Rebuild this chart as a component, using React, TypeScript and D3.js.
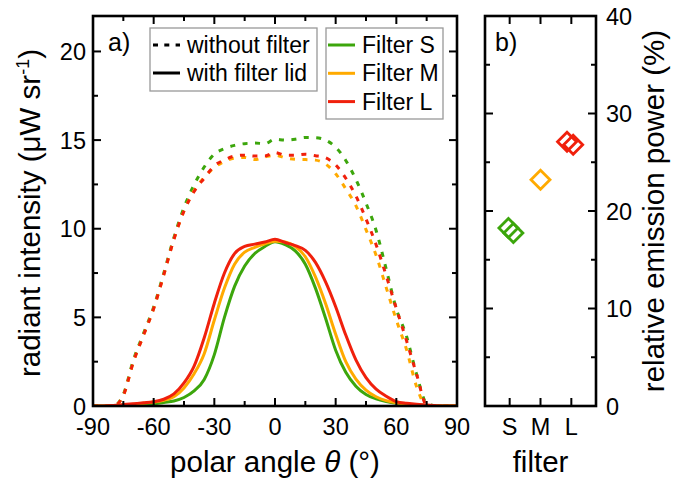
import React from "react";
import * as d3 from "d3";

// ---------- DATA ----------
const angles = d3.range(-90, 91, 5);

// without filter (dotted)
const noFilterS = [0, 0, 0, 0.65, 2.6, 4.1, 5.58, 7.5, 9.5, 11.2, 12.48, 13.48, 14.21, 14.52, 14.7, 14.8, 14.83, 14.8, 15.05, 15.0, 15.05, 15.15, 15.14, 15.0, 14.6, 13.85, 12.78, 11.45, 9.9, 7.72, 5.48, 3.95, 1.8, 0.15, 0, 0, 0];
const noFilterM = [0, 0, 0, 0.6, 2.5, 4.0, 5.5, 7.4, 9.4, 11.0, 12.15, 12.9, 13.45, 13.8, 13.98, 14.02, 13.9, 14.05, 14.15, 14.0, 13.92, 13.9, 13.87, 13.65, 13.1, 12.25, 11.3, 9.95, 8.5, 6.68, 4.85, 3.2, 1.1, 0, 0, 0, 0];
const noFilterL = [0, 0, 0, 0.6, 2.5, 4.0, 5.5, 7.4, 9.4, 11.0, 12.1, 12.85, 13.55, 13.88, 14.1, 14.15, 14.1, 14.1, 14.3, 14.15, 14.15, 14.2, 14.12, 14.0, 13.6, 12.85, 11.85, 10.55, 9.1, 7.35, 5.5, 3.7, 1.8, 0.05, 0, 0, 0];

// with filter lid (solid)
const lidS = [0, 0, 0, 0.02, 0.05, 0.08, 0.12, 0.2, 0.28, 0.48, 0.85, 1.5, 2.9, 5.0, 6.75, 7.9, 8.6, 9.0, 9.27, 9.1, 8.75, 8.0, 6.65, 4.95, 3.15, 1.9, 1.12, 0.65, 0.4, 0.25, 0.15, 0.1, 0.06, 0.03, 0, 0, 0];
const lidM = [0, 0, 0.02, 0.05, 0.1, 0.15, 0.22, 0.32, 0.52, 1.02, 1.82, 2.95, 4.85, 6.65, 8.0, 8.68, 8.95, 9.15, 9.3, 9.25, 9.0, 8.42, 7.28, 5.78, 4.05, 2.5, 1.52, 0.9, 0.52, 0.3, 0.18, 0.1, 0.06, 0.03, 0, 0, 0];
const lidL = [0, 0, 0.03, 0.08, 0.13, 0.18, 0.24, 0.38, 0.68, 1.3, 2.25, 3.85, 5.8, 7.5, 8.6, 9.0, 9.13, 9.25, 9.4, 9.22, 9.05, 8.78, 8.1, 7.0, 5.6, 4.0, 2.6, 1.6, 0.95, 0.55, 0.25, 0.15, 0.1, 0.06, 0.02, 0, 0];

// panel b: relative emission power (%)
const filterCats = ["S", "M", "L"];
const powerX = [0.96, 1.12, 2.0, 2.86, 3.06];
const powerY = [18.25, 17.75, 23.2, 27.1, 26.8];
const powerCat = [0, 0, 1, 2, 2];

const seriesNames = ["Filter S", "Filter M", "Filter L"];
const colors = ["#3ca60c", "#ffaa00", "#f0200c"];

const xTicksA = [-90, -60, -30, 0, 30, 60, 90];
const yTicksA = [0, 5, 10, 15, 20];
const yTicksB = [0, 10, 20, 30, 40];

// ---------- LAYOUT ----------
const W = 686, H = 485;
const A = { l: 93, r: 457, t: 16, b: 406 };
const B = { l: 485, r: 596, t: 16, b: 406 };
const FONT = "'Liberation Sans', Arial, sans-serif";
const TICK_FS = 23.5;
const TITLE_FS = 29.5;
const LEG_FS = 23;

export default function App() {
  const x = d3.scaleLinear().domain([-90, 90]).range([A.l, A.r]);
  const y = d3.scaleLinear().domain([0, 22]).range([A.b, A.t]);
  const xb = d3.scaleLinear().domain([0.2, 3.8]).range([B.l, B.r]);
  const yb = d3.scaleLinear().domain([0, 40]).range([B.b, B.t]);

  const line = (vals: number[]) =>
    d3
      .line<number>()
      .x((_, i) => x(angles[i]))
      .y((v) => y(v))
      .curve(d3.curveMonotoneX)(vals) as string;

  const dotted = [noFilterS, noFilterM, noFilterL];
  const solid = [lidS, lidM, lidL];

  const lw = 2.6;
  const majX = d3.range(-90, 91, 30);
  const minX = d3.range(-75, 90, 30);
  const majY = d3.range(0, 22.1, 5);
  const minY = d3.range(2.5, 22, 5);
  const MAJ = 8, MIN = 5;

  const diamond = (cx: number, cy: number, r: number) =>
    `M${cx},${cy - r}L${cx + r},${cy}L${cx},${cy + r}L${cx - r},${cy}Z`;

  return (
    <svg
      width={W}
      height={H}
      style={{ position: "absolute", left: 0, top: 0, background: "#fff" }}
      fontFamily={FONT}
    >
      <rect width={W} height={H} fill="#fff" />
      {/* ---------- Panel a ---------- */}
      <defs>
        <clipPath id="clipA">
          <rect x={A.l} y={A.t} width={A.r - A.l} height={A.b - A.t} />
        </clipPath>
      </defs>
      <g clipPath="url(#clipA)">
        {dotted.map((d, i) => (
          <path key={"d" + i} d={line(d)} fill="none" stroke={colors[i]} strokeWidth={3} strokeDasharray="5,7.5" />
        ))}
        {solid.map((d, i) => (
          <path key={"s" + i} d={line(d)} fill="none" stroke={colors[i]} strokeWidth={3} />
        ))}
      </g>
      {/* ticks a */}
      <g stroke="#000" strokeWidth={2}>
        {majX.map((t) => (
          <g key={"mx" + t}>
            <line x1={x(t)} x2={x(t)} y1={A.b} y2={A.b - MAJ} />
            <line x1={x(t)} x2={x(t)} y1={A.t} y2={A.t + MAJ} />
          </g>
        ))}
        {minX.map((t) => (
          <g key={"nx" + t}>
            <line x1={x(t)} x2={x(t)} y1={A.b} y2={A.b - MIN} />
            <line x1={x(t)} x2={x(t)} y1={A.t} y2={A.t + MIN} />
          </g>
        ))}
        {majY.map((t) => (
          <g key={"my" + t}>
            <line x1={A.l} x2={A.l + MAJ} y1={y(t)} y2={y(t)} />
            <line x1={A.r} x2={A.r - MAJ} y1={y(t)} y2={y(t)} />
          </g>
        ))}
        {minY.map((t) => (
          <g key={"ny" + t}>
            <line x1={A.l} x2={A.l + MIN} y1={y(t)} y2={y(t)} />
            <line x1={A.r} x2={A.r - MIN} y1={y(t)} y2={y(t)} />
          </g>
        ))}
      </g>
      <rect x={A.l} y={A.t} width={A.r - A.l} height={A.b - A.t} fill="none" stroke="#000" strokeWidth={lw} />
      {xTicksA.map((t) => (
        <text key={"xl" + t} x={x(t)} y={435} fontSize={TICK_FS} textAnchor="middle">
          {t}
        </text>
      ))}
      {yTicksA.map((t) => (
        <text key={"yl" + t} x={A.l - 7} y={y(t) + 8.5} fontSize={TICK_FS} textAnchor="end">
          {t}
        </text>
      ))}
      <text x={(A.l + A.r) / 2} y={472} fontSize={TITLE_FS} textAnchor="middle">
        polar angle <tspan fontStyle="italic">θ</tspan> (°)
      </text>
      <text transform={`translate(40,${(A.t + A.b) / 2 + 2}) rotate(-90)`} fontSize={TITLE_FS} textAnchor="middle">
        radiant intensity (μW sr<tspan dy={-11} fontSize={18}>-1</tspan><tspan dy={11}>)</tspan>
      </text>
      <text x={108} y={51} fontSize={25}>a)</text>

      {/* legends */}
      <rect x={150} y={28} width={167} height={63} fill="#fff" stroke="#999" strokeWidth={1.3} />
      <line x1={153} x2={180} y1={45} y2={45} stroke="#000" strokeWidth={3} strokeDasharray="5,6.3" />
      <text x={187} y={53} fontSize={LEG_FS}>without filter</text>
      <line x1={153} x2={180} y1={73} y2={73} stroke="#000" strokeWidth={3} />
      <text x={187} y={81} fontSize={LEG_FS}>with filter lid</text>

      <rect x={326} y={28} width={117} height={91} fill="#fff" stroke="#999" strokeWidth={1.3} />
      {seriesNames.map((n, i) => (
        <g key={n}>
          <line x1={328} x2={355} y1={45 + i * 28.3} y2={45 + i * 28.3} stroke={colors[i]} strokeWidth={3} />
          <text x={362} y={53 + i * 28.3} fontSize={LEG_FS}>{n}</text>
        </g>
      ))}

      {/* ---------- Panel b ---------- */}
      <g stroke="#000" strokeWidth={2}>
        {filterCats.map((c, i) => (
          <g key={"bt" + c}>
            <line x1={xb(i + 1)} x2={xb(i + 1)} y1={B.b} y2={B.b - MAJ} />
            <line x1={xb(i + 1)} x2={xb(i + 1)} y1={B.t} y2={B.t + MAJ} />
          </g>
        ))}
        {d3.range(0, 41, 5).map((t) => (
          <g key={"by" + t}>
            <line x1={B.l} x2={B.l + (t % 10 === 0 ? MAJ : MIN)} y1={yb(t)} y2={yb(t)} />
            <line x1={B.r} x2={B.r - (t % 10 === 0 ? MAJ : MIN)} y1={yb(t)} y2={yb(t)} />
          </g>
        ))}
      </g>
      <rect x={B.l} y={B.t} width={B.r - B.l} height={B.b - B.t} fill="none" stroke="#000" strokeWidth={lw} />
      {powerX.map((px, i) => (
        <path key={"pt" + i} d={diamond(xb(px), yb(powerY[i]), 9.5)} fill="none" stroke={colors[powerCat[i]]} strokeWidth={2.8} />
      ))}
      {filterCats.map((c, i) => (
        <text key={"bl" + c} x={xb(i + 1)} y={435} fontSize={TICK_FS} textAnchor="middle">
          {c}
        </text>
      ))}
      {yTicksB.map((t) => (
        <text key={"byl" + t} x={B.r + 10} y={yb(t) + 8.5} fontSize={TICK_FS} textAnchor="start">
          {t}
        </text>
      ))}
      <text x={(B.l + B.r) / 2} y={472} fontSize={TITLE_FS} textAnchor="middle">filter</text>
      <text transform={`translate(664,${(B.t + B.b) / 2}) rotate(-90)`} fontSize={TITLE_FS} textAnchor="middle">
        relative emission power (%)
      </text>
      <text x={495} y={51} fontSize={25}>b)</text>
    </svg>
  );
}
